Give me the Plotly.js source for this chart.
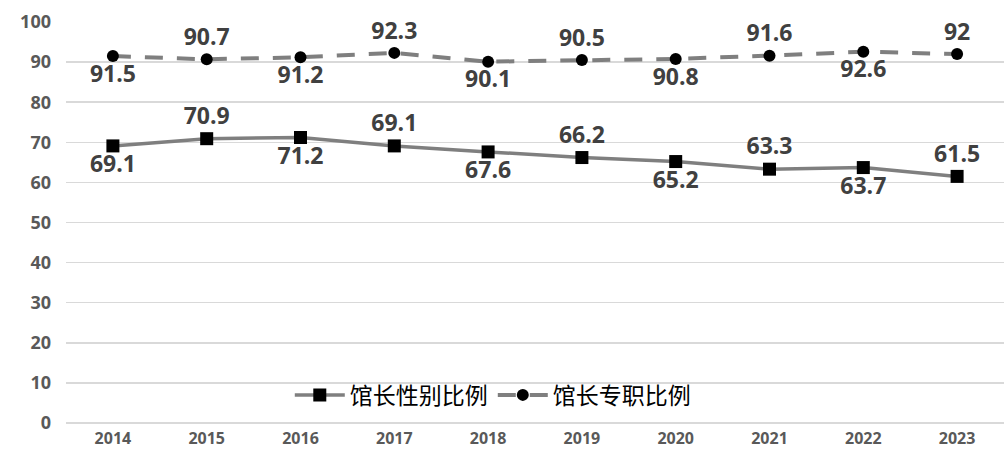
<!DOCTYPE html>
<html><head><meta charset="utf-8">
<script src="https://cdn.plot.ly/plotly-3.0.1.min.js"></script>
<style>html,body{margin:0;padding:0;background:#fff}#chart{width:1004px;height:463px}</style>
</head><body><div id="chart"></div>
<script>
const years = ['2014','2015','2016','2017','2018','2019','2020','2021','2022','2023'];
const genderRatio = [69.1, 70.9, 71.2, 69.1, 67.6, 66.2, 65.2, 63.3, 63.7, 61.5];
const fulltimeRatio = [91.5, 90.7, 91.2, 92.3, 90.1, 90.5, 90.8, 91.6, 92.6, 92];
const seriesNames = ['馆长性别比例', '馆长专职比例'];
const genderLabelPos = ['bottom center','top center','bottom center','top center','bottom center','top center','bottom center','top center','bottom center','top center'];
const fulltimeLabelPos = ['bottom center','top center','bottom center','top center','bottom center','top center','bottom center','top center','bottom center','top center'];

const labelFont = {family:'Open Sans, Liberation Sans, sans-serif', size:23, color:'#404040', weight:700};
const traces = [
  {x: years, y: genderRatio, name: seriesNames[0], type:'scatter', mode:'lines+markers+text',
   text: genderRatio.map(String), textposition: genderLabelPos, textfont: labelFont,
   line:{color:'#7f7f7f', width:3.5}, marker:{symbol:'square', size:13, color:'#000'}, cliponaxis:false},
  {x: years, y: fulltimeRatio, name: seriesNames[1], type:'scatter', mode:'lines+markers+text',
   text: fulltimeRatio.map(String), textposition: fulltimeLabelPos, textfont: labelFont,
   line:{color:'#7f7f7f', width:4, dash:'18px,14px'}, marker:{symbol:'circle', size:12, color:'#000'}, cliponaxis:false}
];
const layout = {
  width:1004, height:463,
  margin:{l:66, r:0, t:22, b:40, autoexpand:false},
  paper_bgcolor:'#fff', plot_bgcolor:'#fff',
  showlegend:true,
  legend:{orientation:'h', x:0.455, xanchor:'center', y:0.07, yanchor:'middle',
          font:{family:'Noto Sans CJK SC, sans-serif', size:23, color:'#000'}, bgcolor:'rgba(255,255,255,0)', itemwidth:50},
  xaxis:{type:'category', range:[-0.5, 9.5], autorange:false, automargin:false, showgrid:false, zeroline:false, showline:false, ticks:'',
         tickfont:{family:'Open Sans, Liberation Sans, sans-serif', size:16, color:'#595959', weight:700}, ticklabelstandoff:4},
  yaxis:{range:[0,100], dtick:10, automargin:false, showgrid:true, gridcolor:'#d9d9d9', gridwidth:1.5, zeroline:true, zerolinecolor:'#d9d9d9', zerolinewidth:1.5,
         showline:false, ticks:'', tickfont:{family:'Open Sans, Liberation Sans, sans-serif', size:18, color:'#595959', weight:700}, ticklabelstandoff:14}
};
Plotly.newPlot('chart', traces, layout, {displayModeBar:false, staticPlot:true});
</script></body></html>
